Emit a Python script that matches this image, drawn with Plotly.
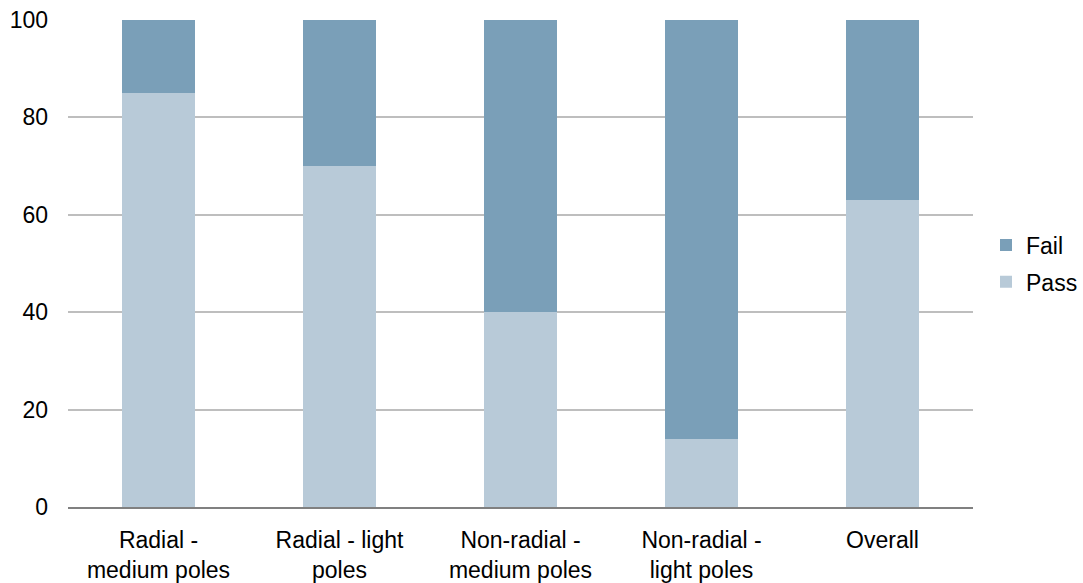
import plotly.graph_objects as go

categories = ["Radial -<br>medium poles", "Radial - light<br>poles", "Non-radial -<br>medium poles",
              "Non-radial -<br>light poles", "Overall"]
pass_vals = [85, 70, 40, 14, 63]
fail_vals = [15, 30, 60, 86, 37]

fig = go.Figure()
fig.add_trace(go.Bar(name="Pass", x=categories, y=pass_vals, marker_color="#B8CAD8",
                     marker_line_width=0, legendgroup="p", legendrank=2))
fig.add_trace(go.Bar(name="Fail", x=categories, y=fail_vals, marker_color="#7A9FB8",
                     marker_line_width=0, legendgroup="f", legendrank=1))

fig.update_layout(
    barmode="stack",
    bargap=0.6,
    width=1083, height=583,
    margin=dict(l=68, r=110, t=20, b=76, autoexpand=False),
    paper_bgcolor="white", plot_bgcolor="white",
    font=dict(family="Liberation Sans, Arial, sans-serif", size=23, color="#000000"),
    legend=dict(traceorder="grouped", x=(986 - 68) / 905, y=0.5, yanchor="middle", xanchor="left",
                font=dict(size=23), itemwidth=30, tracegroupgap=4, xref="paper"),
    showlegend=True,
)
fig.update_yaxes(range=[0, 100], tickvals=[0, 20, 40, 60, 80, 100], showgrid=True,
                 gridcolor="#BEBEBE", gridwidth=2, zeroline=False, showline=False,
                 ticklabelstandoff=19, automargin=False)
fig.update_xaxes(showline=True, linecolor="#808080", linewidth=2, showgrid=False,
                 ticks="", tickfont=dict(size=23), ticklabelstandoff=11, automargin=False)

fig.write_html("out.html")
